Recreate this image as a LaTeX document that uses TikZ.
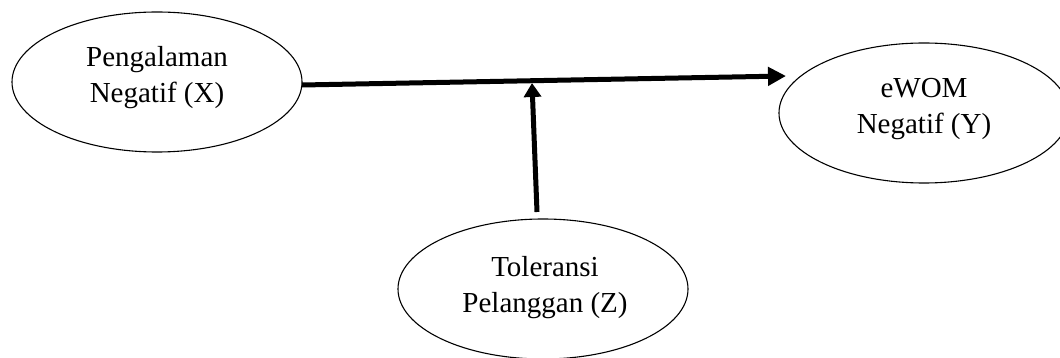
\documentclass[tikz,border=0pt]{standalone}
\usepackage{fontspec}
\setmainfont{Liberation Serif}
\usetikzlibrary{arrows.meta,shapes.geometric}
\begin{document}
\begin{tikzpicture}[x=1pt,y=-1pt,
  var/.style={draw, ellipse, line width=1.1pt, minimum width=290pt, minimum height=140pt, inner sep=0pt},
  lbl/.style={align=center, inner sep=0pt, font=\fontsize{29}{36}\selectfont},
  link/.style={line width=5pt, -{Triangle[length=18pt,width=18pt]}}]
\useasboundingbox (0,0) rectangle (1060,358);
\node[var] (X) at (157,82) {};
\node[var] (Y) at (924,113) {};
\node[var] (Z) at (543,289) {};
\node[lbl] (Xt) at (157,78) {Pengalaman\\Negatif (X)};
\node[lbl] (Yt) at (924,109.5) {eWOM\\Negatif (Y)};
\node[lbl] (Zt) at (545,288) {Toleransi\\Pelanggan (Z)};
\coordinate (xs) at (302,85);
\coordinate (ye) at (786,76);
\coordinate (zs) at (537,212);
\coordinate (m) at (532,83);
\draw[link] (xs) -- (ye);
\draw[link, -{Triangle[length=14pt,width=17pt]}] (zs) -- (m);
\end{tikzpicture}
\end{document}
